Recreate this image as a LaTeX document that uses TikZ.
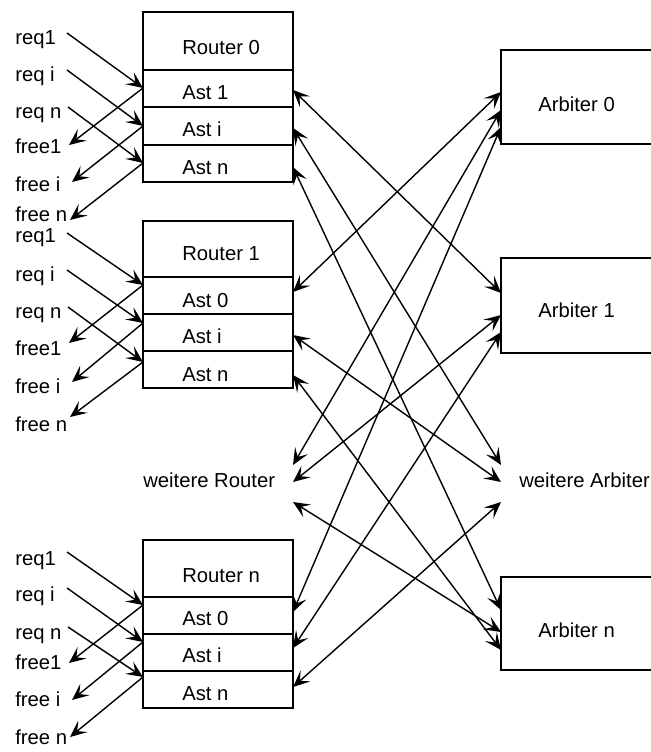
\documentclass[tikz,border=0pt]{standalone}
\usepackage{fontspec}
\setmainfont{Liberation Sans}
\usetikzlibrary{arrows.meta}
\begin{document}
\begin{tikzpicture}[x=0.75pt,y=-0.75pt,
  lbl/.style={font=\fontsize{15.2}{18}\selectfont, inner sep=0pt, anchor=base west},
  frame/.style={draw, line width=1.4pt, inner sep=0pt, outer sep=0pt, minimum width=112.5pt},
  arbox/.style={draw, line width=1.4pt, inner sep=0pt, outer sep=0pt, minimum width=119.25pt},
  tip/.tip={Stealth[length=12.5pt,width=11pt,inset=5.5pt]},
  wire/.style={line width=1.05pt, -tip},
  link/.style={line width=1.05pt, tip-tip},
]
\useasboundingbox (0,0) rectangle (650,752);

% ---------------- Router 0 ----------------
\node[frame, minimum height=43.5pt] (r0t) at (218,41) {};
\node[frame, minimum height=28pt] (r0a) at (218,88.5) {};
\node[frame, minimum height=28pt] (r0b) at (218,126) {};
\node[frame, minimum height=28pt] (r0c) at (218,163.5) {};
\node[lbl] (r0tl) at (182,55) {Router 0};
\node[lbl] (r0al) at (182,100) {Ast 1};
\node[lbl] (r0bl) at (182,137) {Ast i};
\node[lbl] (r0cl) at (182,175) {Ast n};

% ---------------- Router 1 ----------------
\node[frame, minimum height=42pt] (r1t) at (218,249) {};
\node[frame, minimum height=27.75pt] (r1a) at (218,295.5) {};
\node[frame, minimum height=27.75pt] (r1b) at (218,332.5) {};
\node[frame, minimum height=27.75pt] (r1c) at (218,369.5) {};
\node[lbl] (r1tl) at (182,260) {Router 1};
\node[lbl] (r1al) at (182,307) {Ast 0};
\node[lbl] (r1bl) at (182,343) {Ast i};
\node[lbl] (r1cl) at (182,381) {Ast n};

% ---------------- Router n ----------------
\node[frame, minimum height=42.75pt] (rnt) at (218,568.5) {};
\node[frame, minimum height=27.75pt] (rna) at (218,615.5) {};
\node[frame, minimum height=27.75pt] (rnb) at (218,652.5) {};
\node[frame, minimum height=27.75pt] (rnc) at (218,689.5) {};
\node[lbl] (rntl) at (182,582) {Router n};
\node[lbl] (rnal) at (182,625) {Ast 0};
\node[lbl] (rnbl) at (182,662) {Ast i};
\node[lbl] (rncl) at (182,700) {Ast n};

% ---------------- Arbiters ----------------
\node[arbox, minimum height=70.5pt] (a0) at (580.5,97) {};
\node[arbox, minimum height=71.25pt] (a1) at (580.5,305.5) {};
\node[arbox, minimum height=69.75pt] (an) at (580.5,623.5) {};
\node[lbl] (a0l) at (538,112) {Arbiter 0};
\node[lbl] (a1l) at (538,317) {Arbiter 1};
\node[lbl] (anl) at (538,637) {Arbiter n};

\node[lbl] (wr) at (143,487) {weitere Router};
\node[lbl] (wa) at (519,487) {weitere Arbiter};

% ---------------- request / free labels ----------------
\foreach \g/\ya/\yb/\yc/\yd/\ye/\yf in {0/45/82/119/154/192/221, 1/243/281/318/355/393/431, n/565/601/639/669/706/744}{
  \node[lbl] (q1\g) at (15,\ya) {req1};
  \node[lbl] (qi\g) at (15,\yb) {req i};
  \node[lbl] (qn\g) at (15,\yc) {req n};
  \node[lbl] (f1\g) at (15,\yd) {free1};
  \node[lbl] (fi\g) at (15,\ye) {free i};
  \node[lbl] (fn\g) at (15,\yf) {free n};
}

% request starts, free ends and contact points on the routers' left side
\foreach \g/\sa/\sb/\sc/\ea/\eb/\ec/\ca/\cb/\cc in {0/33/70/107/145/182/220/88/126/163, 1/233/270/307/343/382/417/285/323/362, n/552/588/627/663/700/737/605/642/677}{
  \coordinate (qs1\g) at (67,\sa);
  \coordinate (qsi\g) at (67,\sb);
  \coordinate (qsn\g) at (68,\sc);
  \coordinate (fe1\g) at (69,\ea);
  \coordinate (fei\g) at (72,\eb);
  \coordinate (fen\g) at (70,\ec);
  \coordinate (in1\g) at (143,\ca);
  \coordinate (ini\g) at (143,\cb);
  \coordinate (inn\g) at (143,\cc);
  \draw[wire] (qs1\g) -- (in1\g);
  \draw[wire] (qsi\g) -- (ini\g);
  \draw[wire] (qsn\g) -- (inn\g);
  \draw[wire] (in1\g) -- (fe1\g);
  \draw[wire] (ini\g) -- (fei\g);
  \draw[wire] (inn\g) -- (fen\g);
}

% ---------------- router side contact points ----------------
\coordinate (o01) at (293,90);
\coordinate (o0i) at (293,128);
\coordinate (o0n) at (293,167);
\coordinate (o10) at (293,292);
\coordinate (o1i) at (293,335);
\coordinate (o1n) at (293,375);
\coordinate (ow1) at (293,465);
\coordinate (ow2) at (293,482);
\coordinate (ow3) at (293,502);
\coordinate (on0) at (293,612);
\coordinate (oni) at (293,648);
\coordinate (onn) at (293,687);

% ---------------- arbiter side contact points ----------------
\coordinate (k01) at (501,92);
\coordinate (k02) at (501,110);
\coordinate (k03) at (501,127);
\coordinate (k11) at (501,293);
\coordinate (k12) at (501,315);
\coordinate (k13) at (501,332);
\coordinate (kw1) at (501,465);
\coordinate (kw2) at (501,482);
\coordinate (kw3) at (501,502);
\coordinate (kn1) at (501,610);
\coordinate (kn2) at (501,632);
\coordinate (kn3) at (501,650);

% ---------------- router <-> arbiter links ----------------
\draw[link] (o01) -- (k11);
\draw[link] (o0i) -- (kw1);
\draw[link] (o0n) -- (kn1);
\draw[link] (o10) -- (k01);
\draw[link] (o1i) -- (kw2);
\draw[link] (o1n) -- (kn3);
\draw[link] (ow1) -- (k02);
\draw[link] (ow2) -- (k12);
\draw[link] (ow3) -- (kn2);
\draw[link] (on0) -- (k03);
\draw[link] (oni) -- (k13);
\draw[link] (onn) -- (kw3);
\end{tikzpicture}
\end{document}
